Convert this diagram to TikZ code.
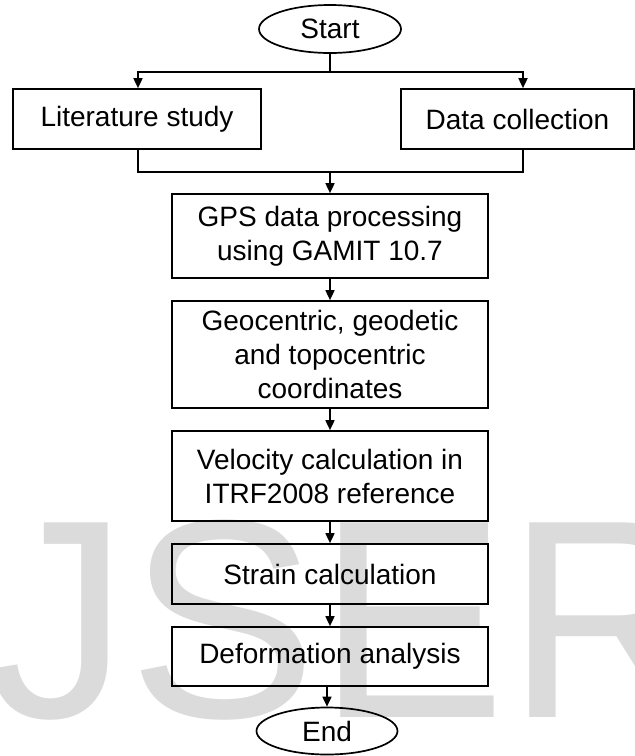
\documentclass[tikz,border=0pt]{standalone}
\usepackage{fontspec}
\setmainfont{Liberation Sans}
\usetikzlibrary{shapes.geometric,arrows.meta}
\definecolor{markgray}{RGB}{219,219,219}
\begin{document}
\begin{tikzpicture}[x=1pt,y=-1pt,
  label font/.style={font=\fontsize{28}{34}\selectfont},
  box/.style={draw,line width=1.7pt,align=center,inner sep=0pt,label font},
  midbox/.style={box,minimum width=316pt},
  term/.style={draw,ellipse,line width=1.7pt,inner sep=0pt,label font,
    minimum width=142pt,minimum height=48pt},
  link/.style={line width=1.7pt},
  arr/.style={link,-{Triangle[length=10pt,width=9pt]}}]

  % page frame
  \useasboundingbox (0,0) rectangle (635,756);
  \clip (0,0) rectangle (635,756);

  % background mark
  \node[anchor=base west,inner sep=0pt,text=markgray,
        font=\fontsize{283}{283}\selectfont] (mark) at (-13,717) {JSER};

  % terminals
  \node[term] (start) at (330,29) {Start};
  \node[term,minimum width=141pt,minimum height=47pt] (end) at (327,731) {End};

  % parallel first steps
  \node[box,minimum width=248pt,minimum height=60pt] (lit) at (137,119) {Literature study};
  \node[box,minimum width=233pt,minimum height=60pt] (data) at (517.5,119) {Data collection};

  % main column
  \node[midbox,minimum height=84pt] (gps) at (330,236)
    {GPS data processing\\using GAMIT 10.7};
  \node[midbox,minimum height=107pt] (geo) at (330,354.5)
    {Geocentric, geodetic\\and topocentric\\coordinates};
  \node[midbox,minimum height=90pt] (vel) at (330,476)
    {Velocity calculation in\\ITRF2008 reference};
  \node[midbox,minimum height=60pt] (strain) at (330,574) {Strain calculation};
  \node[midbox,minimum height=59pt] (deform) at (330,656.5) {Deformation analysis};

  % split and join points
  \coordinate (split) at (330,72);
  \coordinate (join) at (330,172);

  % connectors
  \draw[link] (start) -- (split);
  \draw[arr] (split) -| ([xshift=1pt]lit.north);
  \draw[arr] (split) -| ([xshift=5.5pt]data.north);
  \draw[link] ([xshift=1pt]lit.south) |- (join) -| ([xshift=5.5pt]data.south);
  \draw[arr] (join) -- (gps);
  \draw[arr] (gps) -- (geo);
  \draw[arr] (geo) -- (vel);
  \draw[arr] (vel) -- (strain);
  \draw[arr] (strain) -- (deform);
  \draw[arr] (end.north |- deform.south) -- (end);
\end{tikzpicture}
\end{document}
